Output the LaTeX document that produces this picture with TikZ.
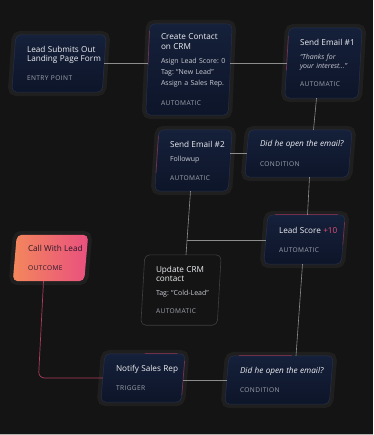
\documentclass[tikz,border=0pt]{standalone}
\usepackage{fontspec}
\setmainfont{Open Sans}
\newfontfamily\typefam{Open Sans}[LetterSpace=6]
\usetikzlibrary{calc}
\definecolor{canvas}{RGB}{20,20,20}
\definecolor{cardtop}{RGB}{21,32,58}
\definecolor{cardbottom}{RGB}{13,21,41}
\definecolor{cardedge}{RGB}{38,48,74}
\definecolor{titlecol}{RGB}{238,240,244}
\definecolor{bodycol}{RGB}{200,204,212}
\definecolor{typecol}{RGB}{158,163,173}
\definecolor{linkgray}{RGB}{140,140,140}
\definecolor{hotpink}{RGB}{232,80,122}
\definecolor{callorange}{RGB}{243,135,92}
\definecolor{callpink}{RGB}{233,80,127}
\definecolor{calltext}{RGB}{40,22,42}
\definecolor{accentred}{RGB}{170,55,90}
\definecolor{greyedge}{RGB}{62,62,62}

\newcommand{\cardtitle}{\fontsize{8.2}{9.5}\selectfont}
\newcommand{\cardtype}{\typefam\fontsize{6.6}{9.5}\selectfont}
\newcommand{\nohyph}{\hyphenpenalty10000\relax\exhyphenpenalty10000\relax}
% slanted card behind a node, corners named <node>-a .. <node>-d
\newcommand{\card}[2]{\path[#1] ([xshift=2pt]#2.north west) coordinate (#2-a) -- ([xshift=2pt]#2.north east) coordinate (#2-b) -- ([xshift=-2pt]#2.south east) coordinate (#2-c) -- ([xshift=-2pt]#2.south west) coordinate (#2-d) -- cycle;}

\pgfdeclarelayer{cards}
\pgfsetlayers{cards,main}

\begin{document}
\begin{tikzpicture}[
    x=1pt, y=-1pt,
    flow/.style 2 args={rectangle, text width=#1, minimum height=#2, inner xsep=13pt, inner ysep=0pt, align=left,
        font=\fontsize{7}{9.5}\selectfont, execute at begin node=\nohyph, text=bodycol},
    halo/.style={preaction={draw=white, draw opacity=0.05, line width=8pt}},
    navy/.style={halo, rounded corners=5pt, top color=cardtop, bottom color=cardbottom, draw=cardedge, line width=0.5pt},
    ghost/.style={rounded corners=5pt, fill=canvas, draw=greyedge, line width=0.6pt},
    hot/.style={halo, rounded corners=5pt, left color=callorange, right color=callpink},
    link/.style={draw=linkgray, line width=0.6pt},
    hotlink/.style={draw=hotpink!75!black, line width=0.7pt, rounded corners=6pt},
    accent/.style={draw=accentred, line width=0.7pt, line cap=round, draw opacity=0.6}
]
    \useasboundingbox (0,0) rectangle (373,435);

    % Cards
    \node[flow={64pt}{57pt}] (lead) at (59,63.5) {{\cardtitle\color{titlecol}Lead~Submits~Out\\Landing~Page~Form}\\[9.5pt]{\cardtype\color{typecol}ENTRY~POINT}};
    \node[flow={56pt}{91pt}] (contact) at (189,69.5) {{\cardtitle\color{titlecol}Create~Contact\\on~CRM}\\[4.5pt]Asign~Lead~Score:~0\\[1.5pt]Tag:~“New~Lead”\\[1.5pt]Assign~a~Sales~Rep.\\[10.5pt]{\cardtype\color{typecol}AUTOMATIC}};
    \node[flow={47pt}{70pt}] (email1) at (323.5,63) {{\cardtitle\color{titlecol}Send~Email~\#1}\\[4.5pt]{\itshape “Thanks~for\\your~interest...”}\\[8.5pt]{\cardtype\color{typecol}AUTOMATIC}};
    \node[flow={47pt}{61pt}] (email2) at (193.5,160.5) {{\cardtitle\color{titlecol}Send~Email~\#2}\\[4.5pt]Followup\\[9.5pt]{\cardtype\color{typecol}AUTOMATIC}};
    \node[flow={77pt}{47pt}] (open1) at (298.5,153.5) {{\cardtitle\color{titlecol}\itshape Did~he~open~the~email?}\\[10pt]{\cardtype\color{typecol}CONDITION}};
    \node[flow={45pt}{46pt}, text=calltext] (call) at (50.5,258) {{\cardtitle Call~With~Lead}\\[10pt]{\cardtype OUTCOME}};
    \node[flow={51pt}{49pt}] (score) at (304.5,239.5) {{\cardtitle\color{titlecol}Lead~Score~{\color{hotpink}+10}}\\[9.5pt]{\cardtype\color{typecol}AUTOMATIC}};
    \node[flow={50pt}{70pt}] (update) at (181,290) {{\cardtitle\color{titlecol}Update~CRM\\contact}\\[4.5pt]Tag:~“Cold-Lead”\\[8.5pt]{\cardtype\color{typecol}AUTOMATIC}};
    \node[flow={54pt}{48pt}] (notify) at (143,378) {{\cardtitle\color{titlecol}Notify~Sales~Rep}\\[9.5pt]{\cardtype\color{typecol}TRIGGER}};
    \node[flow={78pt}{48pt}] (open2) at (279,380) {{\cardtitle\color{titlecol}\itshape Did~he~open~the~email?}\\[9.5pt]{\cardtype\color{typecol}CONDITION}};

    \begin{pgfonlayer}{cards}
        \fill[canvas] (0,0) rectangle (373,435);
        \card{navy}{lead}
        \card{navy}{contact}
        \card{navy}{email1}
        \card{navy}{email2}
        \card{navy}{open1}
        \card{hot}{call}
        \card{navy}{score}
        \card{ghost}{update}
        \card{navy}{notify}
        \card{navy}{open2}
    \end{pgfonlayer}

    % Pink edge glints
    \draw[accent] ($(contact-a)!0.08!(contact-d)$) -- ($(contact-a)!0.45!(contact-d)$);
    \draw[accent] ($(email1-a)!0.12!(email1-d)$) -- ($(email1-a)!0.6!(email1-d)$);
    \draw[accent] ($(email2-a)!0.1!(email2-d)$) -- ($(email2-a)!0.7!(email2-d)$);
    \draw[accent] ($(score-a)!0.1!(score-b)$) -- ($(score-a)!0.9!(score-b)$);
    \draw[accent] ($(score-b)!0.15!(score-c)$) -- ($(score-b)!0.6!(score-c)$);
    \draw[accent] ($(open2-a)!0.1!(open2-b)$) -- ($(open2-a)!0.6!(open2-b)$);
    \draw[accent] ($(notify-a)!0.5!(notify-b)$) -- ($(notify-a)!0.9!(notify-b)$);
    \draw[accent] ($(notify-b)!0.15!(notify-c)$) -- ($(notify-b)!0.85!(notify-c)$);

    % Connectors
    \draw[link] (lead.east) -- (lead.east -| contact.west);
    \draw[link] (contact.east |- email1.west) -- (email1.west);
    \draw[link] ([xshift=-7pt]email1.south) -- ([xshift=15pt]open1.north);
    \draw[link] (open1.west -| email2.east) -- (open1.west);
    \draw[link] ([xshift=-3pt]email2.south) -- coordinate[pos=0.77] (fork) ([xshift=5pt]update.north);
    \draw[link] (fork) -- (fork -| score.west);
    \draw[link] ([xshift=11pt]open1.south) -- ([xshift=3pt]score.north);
    \draw[link] ([xshift=-2pt]score.south) -- ([xshift=17pt]open2.north);
    \draw[link] (open2.west) -- (open2.west -| notify.east);
    \draw[hotlink] ([xshift=-7pt]call.south) -- ([xshift=-12pt]call.south |- notify.west) -- (notify.west);

    % bottom frame line
    \draw[gray!60, line width=1pt] (0,434.5) -- (373,434.5);
\end{tikzpicture}
\end{document}
